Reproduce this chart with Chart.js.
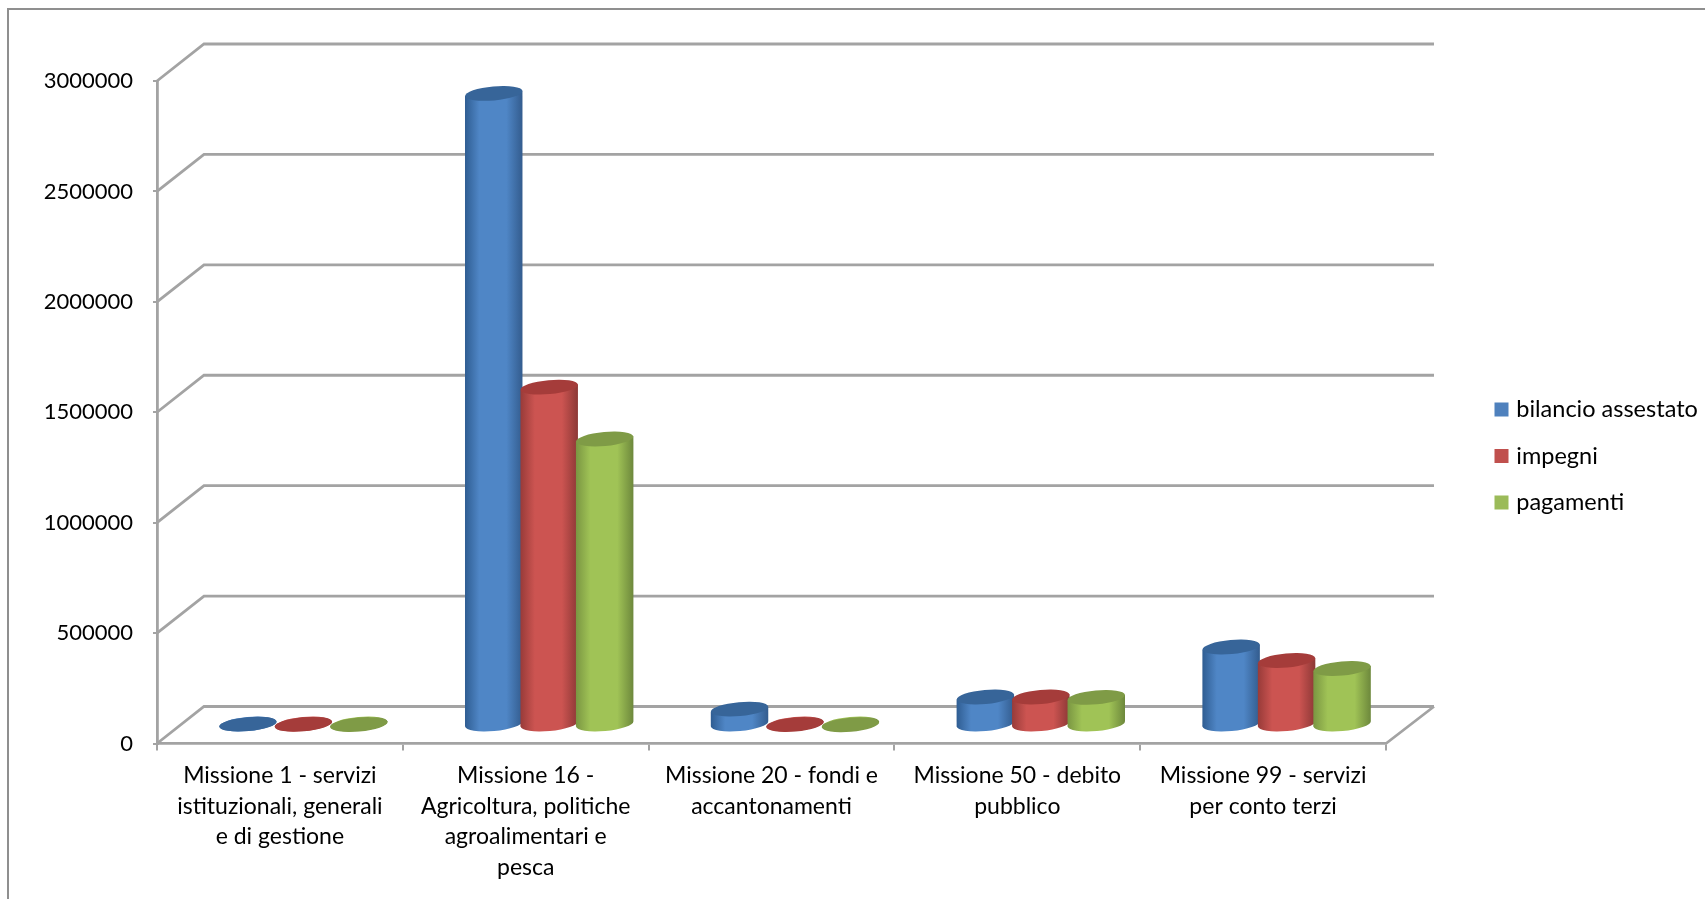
<!DOCTYPE html>
<html>
<head>
<meta charset="utf-8">
<title>Missioni</title>
<script src="https://cdn.jsdelivr.net/npm/chart.js@4/dist/chart.umd.min.js"></script>
<style>
  html, body { margin: 0; padding: 0; background: #fff; }
  canvas { display: block; }
</style>
</head>
<body>
<canvas id="chart" width="1705" height="899"></canvas>
<script>
const categories = [
  ["Missione 1 - servizi", "istituzionali, generali", "e di gestione"],
  ["Missione 16 -", "Agricoltura, politiche", "agroalimentari e", "pesca"],
  ["Missione 20 - fondi e", "accantonamenti"],
  ["Missione 50 - debito", "pubblico"],
  ["Missione 99 - servizi", "per conto terzi"],
];
const bilancioAssestato = [4000, 2860000, 72000, 127000, 353000];
const impegni = [3000, 1530000, 2000, 127000, 292000];
const pagamenti = [2000, 1295000, 1000, 125000, 256000];
const yTicks = [0, 500000, 1000000, 1500000, 2000000, 2500000, 3000000];

const FONT = "Lato, sans-serif";
const GRID = "#a3a3a3";
const DEPTH_X = 47;
const DEPTH_Y = 37;

// body gradient stops and lid colour per series
const SHADES = [
  { edgeL: "#2f5d92", mid: "#4f86c6", edgeR: "#335c8e", top: "#376599" },
  { edgeL: "#983b39", mid: "#cc5451", edgeR: "#8c3836", top: "#a53c3a" },
  { edgeL: "#7a9642", mid: "#a0c356", edgeR: "#6d883c", top: "#7f9b46" },
];

const walls3d = {
  id: "walls3d",
  beforeLayout(chart) {
    // reserve the empty band between plot and legend
    const legend = chart.legend;
    if (!legend.baseFit) {
      legend.baseFit = legend.fit;
      legend.fit = function () {
        this.baseFit();
        this.width = chart.width - 1386;
      };
    }
  },
  afterLayout(chart) {
    chart.legend.left = 1475.5;
    chart.legend.top = 0;
    chart.legend.bottom = 912;
  },
  beforeDatasetsDraw(chart) {
    const { ctx } = chart;
    const x = chart.scales.x;
    const y = chart.scales.y;

    ctx.save();
    // outer frame, cropped by the picture on the right and bottom
    ctx.strokeStyle = "#8f8f8f";
    ctx.lineWidth = 2;
    ctx.beginPath();
    ctx.moveTo(8, 899);
    ctx.lineTo(8, 9);
    ctx.lineTo(1705, 9);
    ctx.stroke();

    ctx.strokeStyle = GRID;
    ctx.lineWidth = 2.8;
    ctx.beginPath();
    yTicks.forEach((v) => {
      const py = y.getPixelForValue(v);
      ctx.moveTo(x.left, py);
      ctx.lineTo(x.left + DEPTH_X, py - DEPTH_Y);
      ctx.lineTo(x.right + DEPTH_X + 1, py - DEPTH_Y);
    });
    const floor = y.getPixelForValue(0);
    ctx.moveTo(x.right, floor);
    ctx.lineTo(x.right + DEPTH_X + 1, floor - DEPTH_Y);
    ctx.stroke();
    ctx.restore();

    chart.data.datasets.forEach((ds, i) => {
      chart.getDatasetMeta(i).data.forEach((bar) => {
        drawCylinder(ctx, bar, SHADES[i]);
      });
    });
    return false;
  },
};

function drawCylinder(ctx, bar, shade) {
  const cx = bar.x + DEPTH_X / 2;
  const a = bar.width / 2 + 1;
  const b = 7;
  const tilt = 0.09;
  const rise = a * Math.sin(tilt);
  const top = bar.y - DEPTH_Y / 2;
  const base = bar.base - DEPTH_Y / 2;

  const g = ctx.createLinearGradient(cx - a, 0, cx + a, 0);
  g.addColorStop(0, shade.edgeL);
  g.addColorStop(0.25, shade.mid);
  g.addColorStop(0.72, shade.mid);
  g.addColorStop(1, shade.edgeR);

  ctx.save();
  ctx.fillStyle = g;
  ctx.beginPath();
  ctx.ellipse(cx, base, a, b, -tilt, 0, Math.PI * 2);
  ctx.fill();
  ctx.beginPath();
  ctx.moveTo(cx - a, top + rise);
  ctx.lineTo(cx + a, top - rise);
  ctx.lineTo(cx + a, base - rise);
  ctx.lineTo(cx - a, base + rise);
  ctx.closePath();
  ctx.fill();
  ctx.fillStyle = shade.top;
  ctx.beginPath();
  ctx.ellipse(cx, top, a, b, -tilt, 0, Math.PI * 2);
  ctx.fill();
  ctx.restore();
}

const canvas = document.getElementById("chart");
// plain glyphs, the reference has no "ti" ligature
canvas.getContext("2d").textRendering = "optimizeSpeed";

new Chart(canvas, {
  type: "bar",
  data: {
    labels: categories,
    datasets: [
      { label: "bilancio assestato", data: bilancioAssestato, backgroundColor: "#4f81bd" },
      { label: "impegni", data: impegni, backgroundColor: "#c0504d" },
      { label: "pagamenti", data: pagamenti, backgroundColor: "#9bbb59" },
    ],
  },
  plugins: [walls3d],
  options: {
    responsive: false,
    animation: false,
    layout: { padding: { top: 81, left: 0, right: 0, bottom: 0 } },
    datasets: { bar: { categoryPercentage: 0.677, barPercentage: 1 } },
    plugins: {
      title: { display: false },
      tooltip: { enabled: false },
      legend: {
        position: "right",
        labels: {
          color: "#000",
          font: { family: FONT, size: 23.5 },
          boxWidth: 6,
          boxHeight: 6,
          padding: 23,
          // thick stroke makes a 14px swatch with a tight text gap
          generateLabels(chart) {
            return Chart.defaults.plugins.legend.labels.generateLabels(chart).map((item) => ({
              ...item,
              strokeStyle: item.fillStyle,
              lineWidth: 8,
            }));
          },
        },
      },
    },
    scales: {
      x: {
        afterFit(scale) {
          scale.height = 899 - 743.5;
        },
        border: { color: GRID, width: 2.8 },
        grid: { drawOnChartArea: false, color: GRID, lineWidth: 2, tickLength: 7 },
        ticks: {
          color: "#000",
          padding: 10,
          autoSkip: false,
          maxRotation: 0,
          font: { family: FONT, size: 23, lineHeight: 1.33 },
        },
      },
      y: {
        min: 0,
        max: 3000000,
        afterFit(scale) {
          scale.width = 157;
        },
        afterBuildTicks(scale) {
          scale.ticks = yTicks.map((value) => ({ value }));
        },
        border: { color: GRID, width: 2.8 },
        grid: { drawOnChartArea: false, color: GRID, lineWidth: 2, tickLength: 4 },
        ticks: {
          color: "#000",
          padding: 20,
          font: { family: FONT, size: 22 },
          callback: (v) => String(v),
        },
      },
    },
  },
});
</script>
</body>
</html>
